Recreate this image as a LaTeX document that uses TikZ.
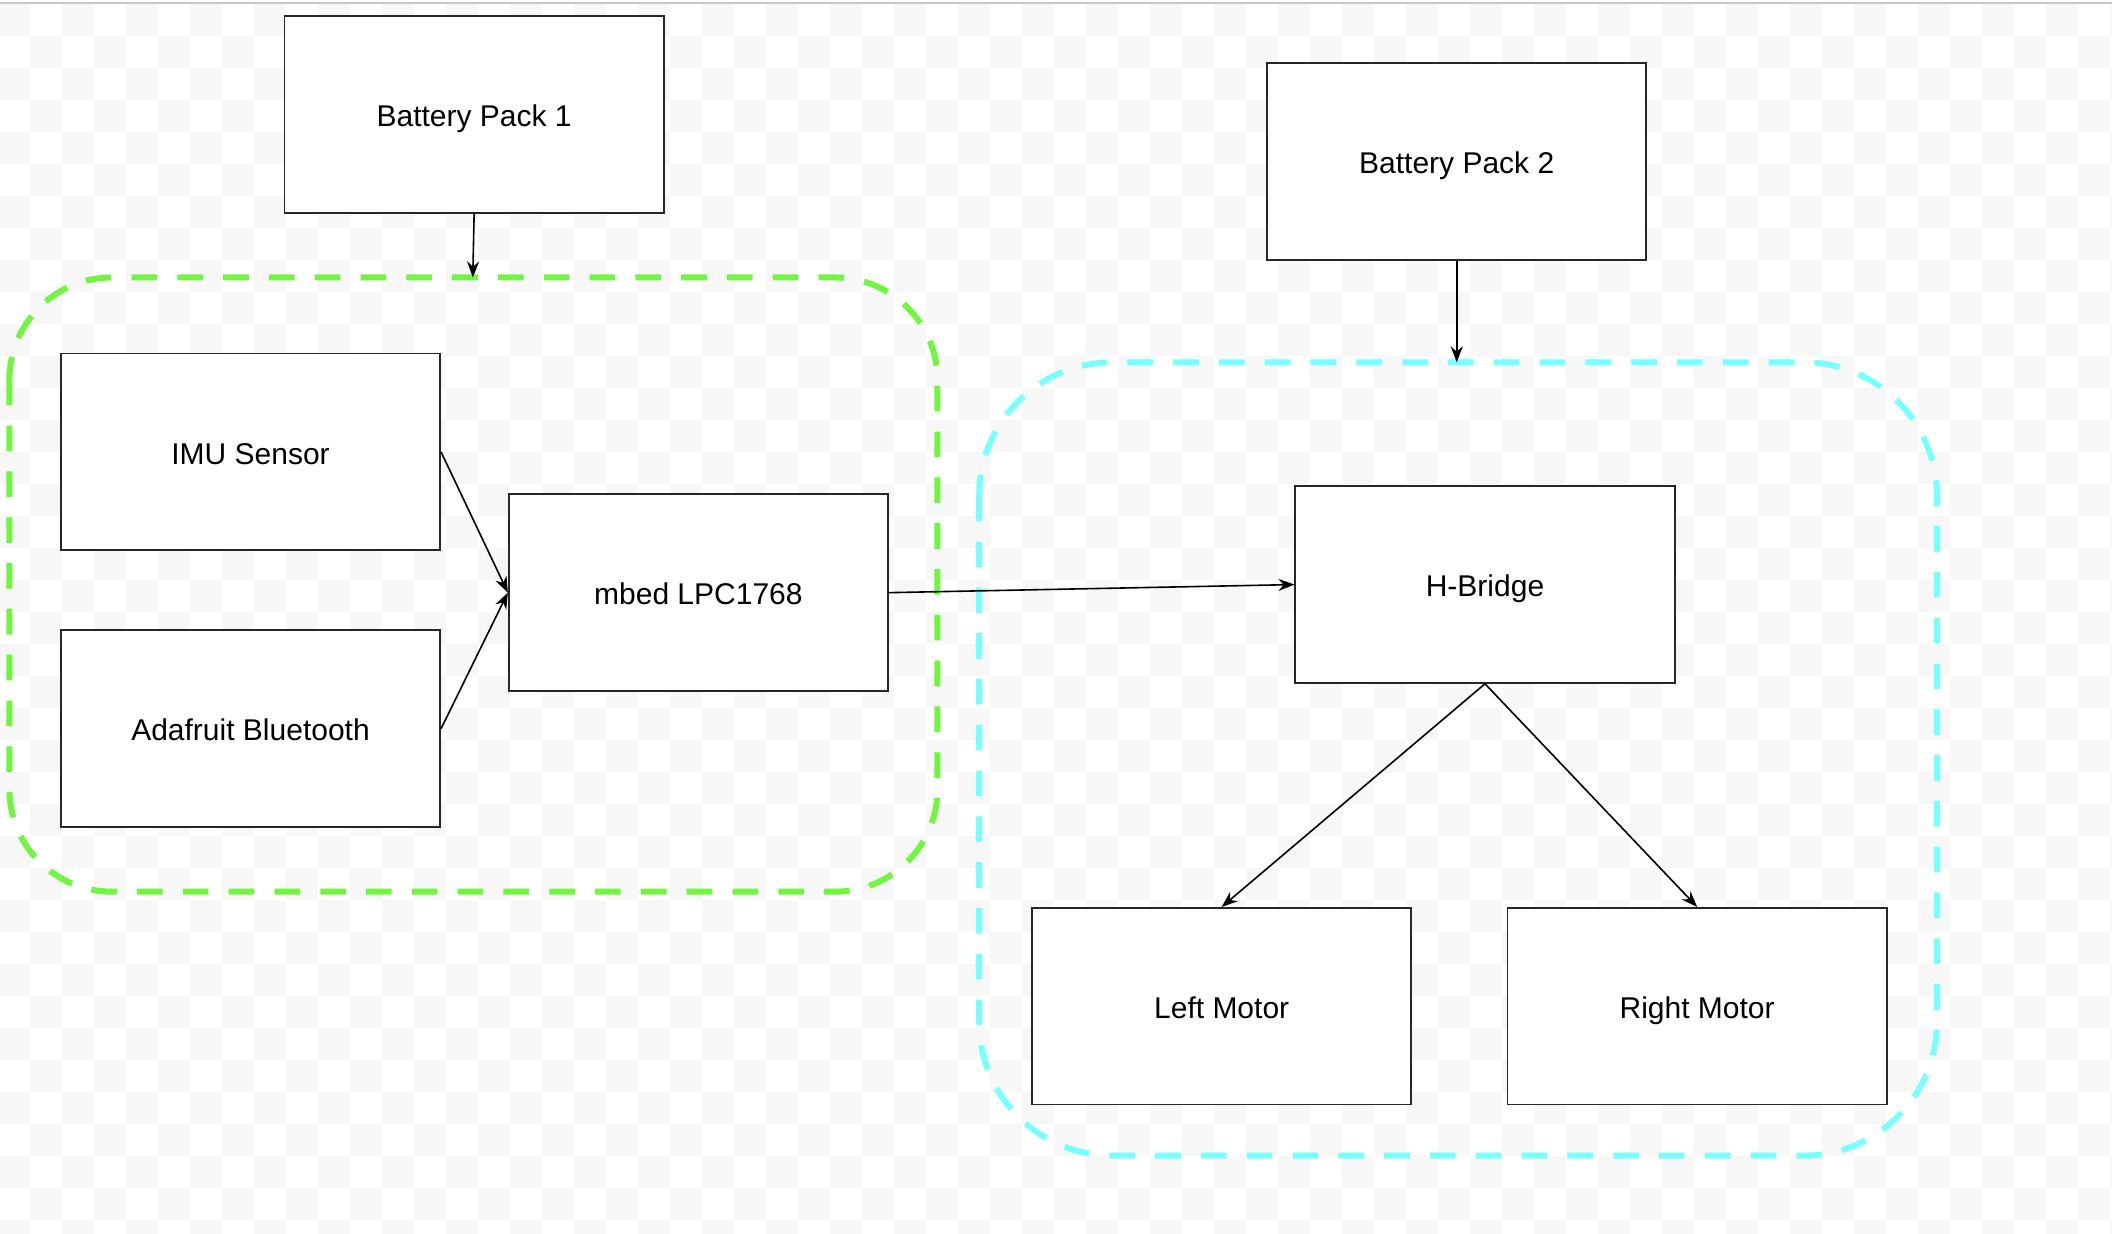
\documentclass[tikz,border=0pt]{standalone}
\usepackage{fontspec}
\setmainfont{Liberation Sans}
\usetikzlibrary{arrows.meta}
\definecolor{chk}{HTML}{F7F7F7}
\definecolor{topline}{HTML}{C8C8C8}
\definecolor{grpgreen}{RGB}{112,245,64}
\definecolor{grpcyan}{RGB}{120,255,255}
\begin{document}
\begin{tikzpicture}[x=0.6734pt,y=-0.6734pt,
  box/.style={draw=black!85, line width=0.9pt, fill=white, minimum width=189.6pt, minimum height=98.3pt, inner sep=0pt, text height=12.1pt, text depth=0pt, font=\fontsize{15}{18}\selectfont},
  conn/.style={draw=black, line width=0.8pt, -{Stealth[length=8pt,width=6pt]}},
  grp/.style={line width=3pt, dash pattern=on 12.8pt off 10.1pt}]

\useasboundingbox (0,0) rectangle (1568,916);
\fill[white] (0,0) rectangle (1568,916);
\begin{scope}
\clip (0,2.97) rectangle (1568,916);
\foreach \i in {0,...,66}{
  \foreach \j in {0,...,38}{
    \pgfmathtruncatemacro{\p}{mod(\i+\j,2)}
    \ifnum\p=0 \fill[chk] ({-1.48+23.76*\i},{2.97+23.76*\j}) rectangle +(23.76,23.76); \fi
  }}
\end{scope}
\draw[topline, line width=1pt] (0,2.2) -- (1568,2.2);

% groups
\draw[grp, grpgreen, rounded corners=51.2pt] (7,206) rectangle (696,662);
\draw[grp, grpcyan, rounded corners=66.7pt] (727,269) rectangle (1438,858);
\coordinate (g1top) at (351,206);
\coordinate (g2top) at (1081.5,269);

% nodes
\node[box] (bp1) at (352,85) {Battery Pack 1};
\node[box] (bp2) at (1081.5,120) {Battery Pack 2};
\node[box] (imu) at (186,335.5) {IMU Sensor};
\node[box] (ada) at (186,541) {Adafruit Bluetooth};
\node[box] (mbed) at (518.5,440) {mbed LPC1768};
\node[box] (hb) at (1102.5,434) {H-Bridge};
\node[box] (lm) at (907,747) {Left Motor};
\node[box] (rm) at (1260,747) {Right Motor};

% connectors
\draw[conn] (bp1.south) -- (g1top);
\draw[conn] (bp2.south) -- (g2top);
\draw[conn] (imu.east) -- (mbed.west);
\draw[conn] (ada.east) -- (mbed.west);
\draw[conn] (mbed.east) -- (hb.west);
\draw[conn] (hb.south) -- (lm.north);
\draw[conn] (hb.south) -- (rm.north);
\end{tikzpicture}
\end{document}
